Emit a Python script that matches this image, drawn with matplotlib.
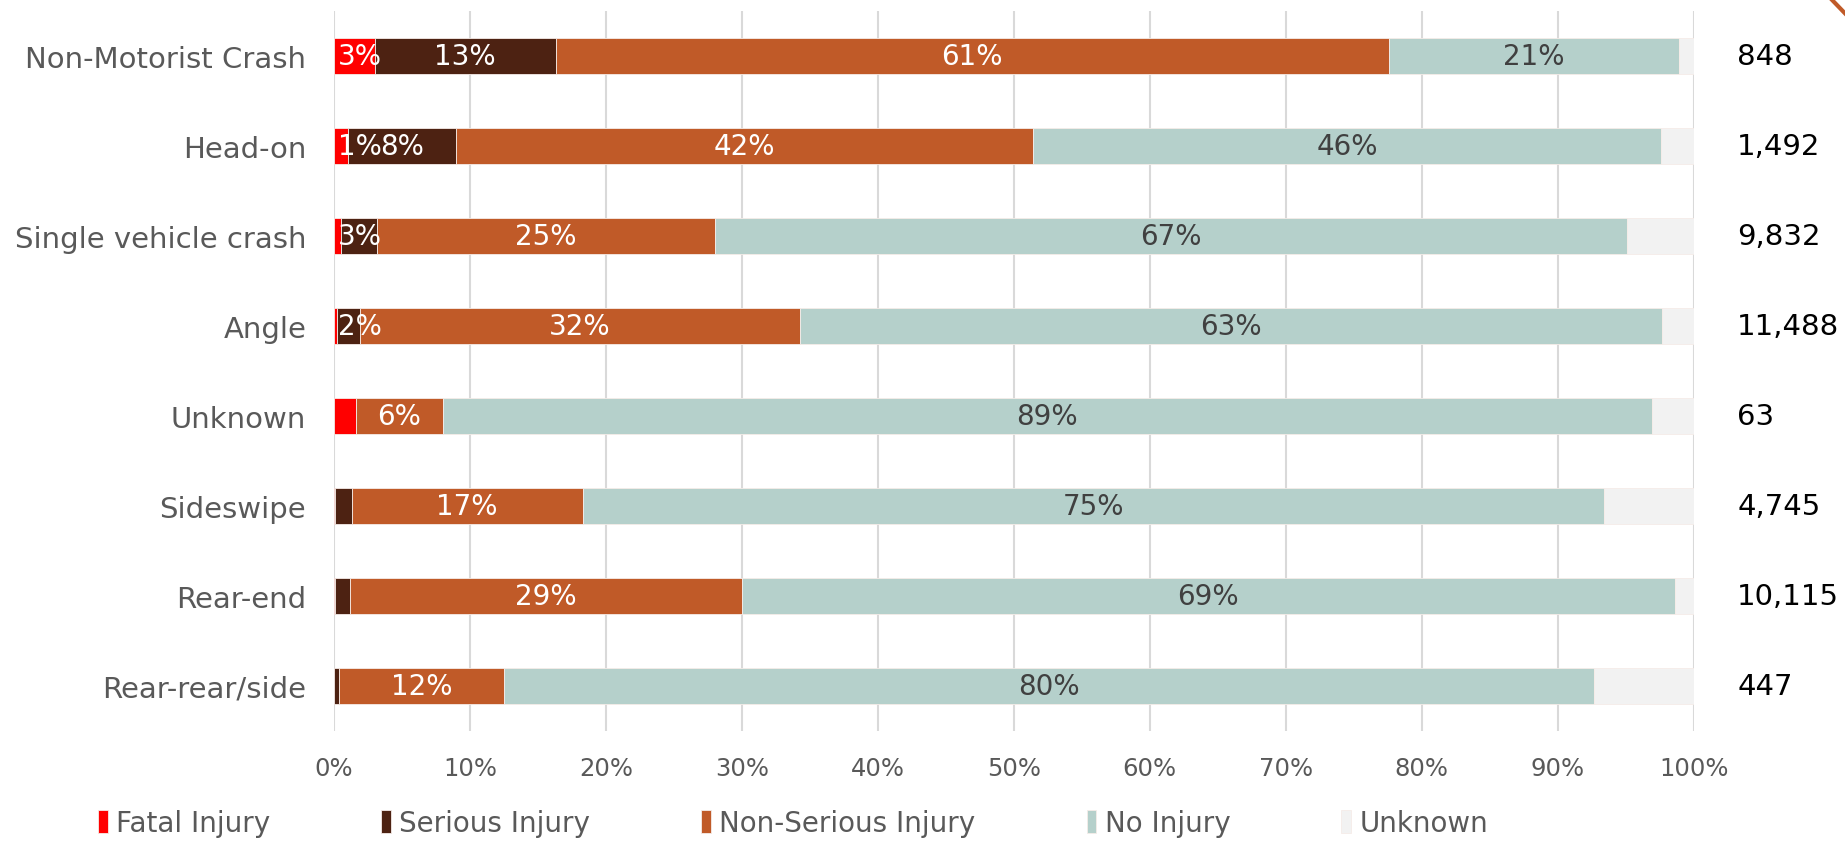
import matplotlib.pyplot as plt
import matplotlib.lines as mlines
import numpy as np

# Дані (частки у %)
categories = ['Non-Motorist Crash', 'Head-on', 'Single vehicle crash', 'Angle',
              'Unknown', 'Sideswipe', 'Rear-end', 'Rear-rear/side']
counts = ['848', '1,492', '9,832', '11,488', '63', '4,745', '10,115', '447']

fatal       = [3.0, 1.0, 0.5, 0.2, 1.6, 0.1, 0.05, 0.0]
serious     = [13.3, 8.0, 2.7, 1.7, 0.0, 1.2, 1.15, 0.4]
non_serious = [61.3, 42.4, 24.8, 32.4, 6.4, 17.0, 28.8, 12.1]
no_injury   = [21.3, 46.2, 67.1, 63.4, 88.9, 75.1, 68.6, 80.2]
unknown     = [1.1, 2.4, 4.9, 2.3, 3.1, 6.6, 1.4, 7.3]

series_names = ['Fatal Injury', 'Serious Injury', 'Non-Serious Injury', 'No Injury', 'Unknown']
series = [fatal, serious, non_serious, no_injury, unknown]
colors = ['#ff0000', '#4d2212', '#c05a28', '#b5d0cb', '#f2f2f2']
label_colors = ['white', 'white', 'white', '#404040', None]

# які сегменти підписані
show_labels = [
    [True, True, False, False, False, False, False, False],
    [True, True, True, True, False, False, False, False],
    [True] * 8,
    [True] * 8,
    [False] * 8,
]

fig = plt.figure(figsize=(18.45, 8.45), dpi=100)
ax = fig.add_axes([0.181, 0.134, 0.737, 0.852])

y = np.arange(len(categories))
left = np.zeros(len(categories))
for name, vals, col, lcol, show in zip(series_names, series, colors, label_colors, show_labels):
    vals = np.array(vals)
    ax.barh(y, vals, left=left, height=0.4, color=col, label=name,
            edgecolor='#f5ece8', linewidth=0.6, zorder=3)
    for i, v in enumerate(vals):
        if show[i]:
            # як в Excel: підпис не виходить за ліву межу
            xc = max(left[i] + v / 2, 1.9)
            ax.text(xc, y[i], f'{round(v):.0f}%', ha='center', va='center',
                    color=lcol, fontsize=20, zorder=4)
    left += vals

for i, c in enumerate(counts):
    ax.text(103.2, y[i], c, ha='left', va='center', fontsize=21, color='black')

ax.set_xlim(0, 100)
ax.set_ylim(len(categories) - 0.5, -0.5)
ax.set_yticks(y)
ax.set_yticklabels(categories, fontsize=21, color='#595959')
ax.set_xticks(np.arange(0, 101, 10))
ax.set_xticklabels([f'{t}%' for t in range(0, 101, 10)], fontsize=17.5, color='#595959')
ax.tick_params(axis='y', length=0, pad=20)
ax.tick_params(axis='x', length=0, pad=18)
ax.grid(axis='x', color='#d9d9d9', linewidth=1.5, zorder=0)
for s in ax.spines.values():
    s.set_visible(False)

ax.legend(loc='center left', bbox_to_anchor=(-0.1735, -0.128), ncol=5, frameon=False,
          fontsize=20, labelcolor='#595959', handlelength=0.35, handleheight=0.9,
          handletextpad=0.3, columnspacing=4.0, borderpad=0, borderaxespad=0)

# декоративна лінія в куті
fig.add_artist(mlines.Line2D([0.9925, 1.0], [1.0, 0.983], color='#c05a28', linewidth=3))

fig.savefig('out.png', dpi=100)
